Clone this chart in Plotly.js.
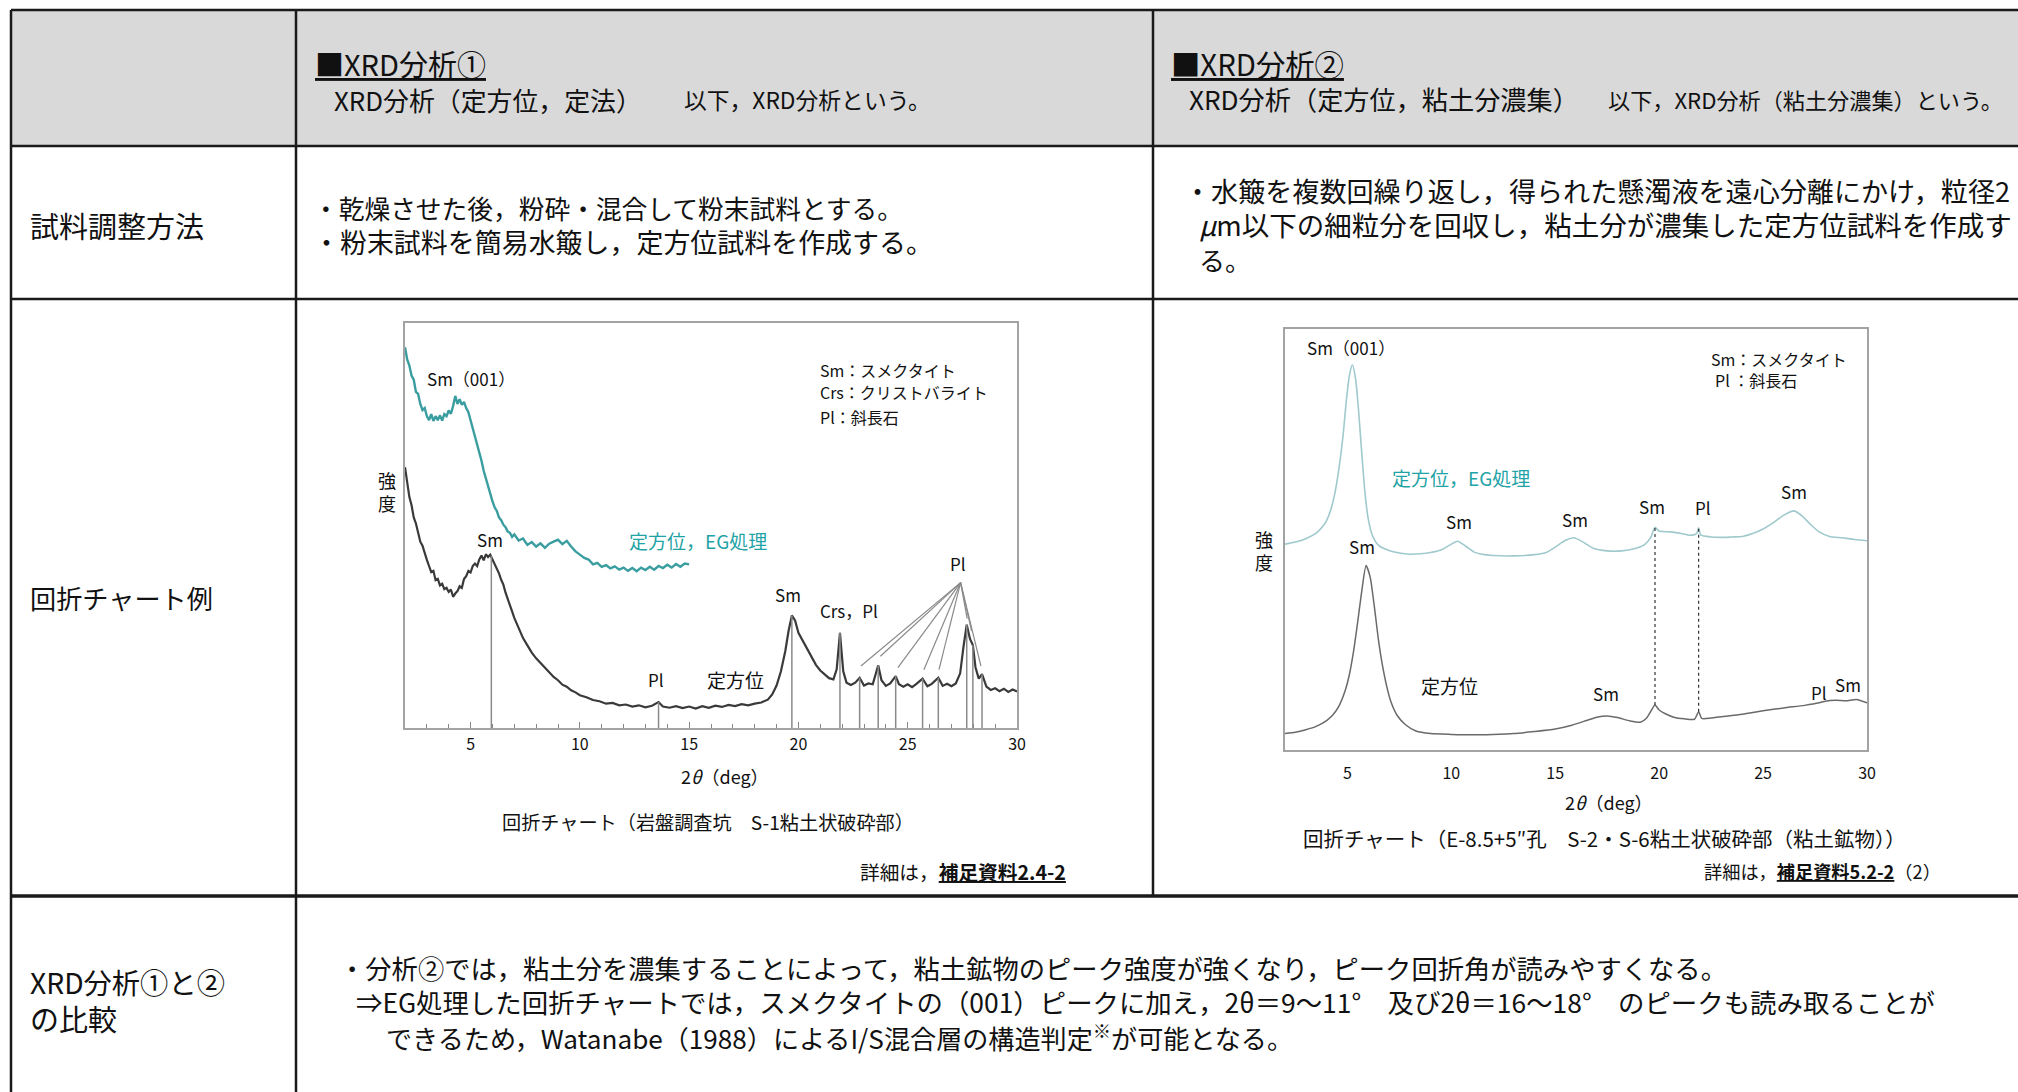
<!DOCTYPE html>
<html>
<head>
<meta charset="utf-8">
<script src="https://cdn.plot.ly/plotly-3.0.1.min.js"></script>
<style>
html,body{margin:0;padding:0;background:#fff;}
#chart{width:2018px;height:1092px;}
</style>
</head>
<body>
<div id="chart"></div>
<script>
// ---------------- DATA ----------------
// Left chart (XRD分析①): 2θ (deg) and relative intensity
const leftEG_x = [2.0,2.1,2.2,2.3,2.4,2.5,2.6,2.7,2.8,2.9,3.0,3.1,3.2,3.3,3.4,3.5,3.6,3.7,3.8,3.9,4.0,4.1,4.2,4.3,4.4,4.5,4.6,4.7,4.8,4.9,5.0,5.1,5.2,5.3,5.4,5.5,5.6,5.7,5.8,5.9,6.0,6.1,6.2,6.3,6.4,6.5,6.6,6.7,6.8,6.9,7.0,7.2,7.4,7.6,7.8,8.0,8.2,8.4,8.6,8.8,9.0,9.2,9.4,9.6,9.8,10.0,10.2,10.4,10.6,10.8,11.0,11.2,11.4,11.6,11.8,12.0,12.2,12.4,12.6,12.8,13.0,13.2,13.4,13.6,13.8,14.0,14.2,14.4,14.6,14.8,15.0];
const leftEG_y = [94,91,89.5,87,86,83,82.5,80,78.5,79,77,76,77.5,75.8,77,76,77.2,75.9,77.5,77,78.4,77.6,79.5,82,80,81.2,79.8,80.5,79,78,76,74,72.5,70,68,66,63.5,61.5,59.5,57.8,56,54.5,53.6,52,51.3,50.2,49.6,48.5,48.2,47.2,47.8,46.3,46.8,45.2,45.9,44.8,45.6,44.5,45.5,46,46.5,45.4,46.2,44.8,43.6,42.8,42,41.6,40.4,40.8,39.8,40.2,39.4,39.9,39.1,39.6,38.8,39.5,38.7,39.6,39,39.8,39.1,40,39.5,40.3,39.6,40.5,39.8,40.6,40.4];

const leftOri_x = [2.0,2.1,2.2,2.3,2.4,2.5,2.6,2.7,2.8,2.9,3.0,3.1,3.2,3.3,3.4,3.5,3.6,3.7,3.8,3.9,4.0,4.1,4.2,4.3,4.4,4.5,4.6,4.7,4.8,4.9,5.0,5.1,5.2,5.3,5.4,5.5,5.6,5.7,5.8,5.9,6.0,6.1,6.2,6.3,6.4,6.5,6.6,6.7,6.8,6.9,7.0,7.2,7.4,7.6,7.8,8.0,8.2,8.4,8.6,8.8,9.0,9.2,9.4,9.6,9.8,10.0,10.3,10.6,10.9,11.2,11.5,11.8,12.1,12.4,12.7,13.0,13.3,13.6,13.8,14.1,14.4,14.7,15.0,15.3,15.6,15.9,16.2,16.5,16.8,17.1,17.4,17.7,18.0,18.3,18.6,18.8,19.0,19.2,19.4,19.55,19.7,19.85,20.0,20.2,20.4,20.6,20.8,21.0,21.2,21.4,21.6,21.75,21.9,22.05,22.2,22.4,22.6,22.8,23.0,23.2,23.4,23.55,23.65,23.8,24.0,24.2,24.45,24.6,24.8,25.0,25.2,25.4,25.68,25.9,26.1,26.4,26.6,26.8,27.0,27.2,27.4,27.55,27.7,27.85,27.98,28.1,28.25,28.4,28.6,28.8,29.0,29.2,29.4,29.6,29.8,30.0];
const leftOri_y = [64.4,60,57,55,52,50.5,48,46,45,43,41.5,40,38.5,38.8,36.5,36.8,35.2,35.6,34.3,34.6,33.6,34.2,32.4,33.2,33.8,35,34.6,36.8,37.5,38.8,38.4,40,40.6,40,41.6,42.6,41.4,42.9,42.2,42.8,41.6,40.8,39.2,38.2,36.6,35.4,33.4,32,30.3,28.8,27.2,24.5,22.2,20.4,18.6,17.2,16,14.8,13.8,12.6,11.8,10.7,10.2,9.3,8.8,8.1,7.6,6.9,6.6,6.0,6.2,5.6,5.8,5.3,5.6,5.1,5.5,6.4,5.3,5.0,5.4,4.9,5.3,4.8,5.4,5.0,5.5,5.2,5.7,5.4,5.9,5.6,6.0,6.3,7.0,8.3,10.5,14,19,24,27.8,26.5,23.5,21.5,19.8,17.5,15.6,14.2,13.2,12.3,12.0,14.5,23.5,14,11.2,10.6,11.2,12.4,10.5,11.0,10.8,13.5,15.5,11.8,10.4,11.0,12.8,10.8,10.2,10.8,10.1,10.9,12.2,10.3,10.9,12.4,10.4,10.9,10.3,11.0,13.5,20,25.5,22,20.5,15,12.2,13.3,10.2,9.4,9.8,9.1,9.7,8.9,9.5,9.0];

// Peak reference lines (left chart): position and top
const leftPeakLine_x = [5.95,13.6,19.7,21.9,22.8,23.65,24.45,25.68,26.4,27.7,27.98,28.4];
const leftPeakLine_top = [42.5,6.4,27.8,23.5,12.4,15.5,12.8,12.2,12.4,25.5,20.5,13.3];
// Pl leader lines (fan) in left chart
const leftPlFanOrigin = [27.42, 35.9];
const leftPlFan_x = [22.86,23.75,24.55,25.74,26.43,27.72,27.92,28.35];
const leftPlFan_y = [15.3,17.7,14.9,14.4,14.4,27,24,15.3];

// Right chart (XRD分析②)
const rightEG_x = [2.0,2.5,3.0,3.5,3.8,4.0,4.2,4.4,4.6,4.8,4.95,5.1,5.24,5.4,5.55,5.7,5.85,6.0,6.2,6.5,7.0,7.5,8.0,8.5,9.0,9.5,9.9,10.3,10.7,11.1,11.6,12.0,13.0,14.0,14.6,15.0,15.5,15.9,16.3,16.8,17.5,18.2,18.8,19.3,19.6,19.8,20.0,20.5,21.0,21.5,21.8,21.9,22.0,22.5,23.0,23.5,24.0,24.5,25.0,25.5,26.0,26.5,26.9,27.3,27.7,28.2,28.8,29.4,30.0];
const rightEG_y = [48.9,49.4,50.2,51.5,53,54.5,57,61,67,75,83,89,91.5,88,80,70,61,55,51,48.6,47.4,46.8,46.5,46.6,46.9,47.5,48.6,49.6,48.4,47,46.4,46.2,46.1,46.4,47,48.2,49.8,50.4,49.5,48,47.3,47.3,47.8,48.8,50.5,52.9,52,51.8,51.5,51,51.4,52.8,51.1,50.6,50.5,50.6,50.7,51.4,52.5,54,55.8,56.8,55.5,53.5,51.8,50.7,50.4,50,49.7];

const rightOri_x = [2.0,2.5,3.0,3.5,4.0,4.3,4.6,4.9,5.1,5.3,5.5,5.7,5.9,6.1,6.3,6.5,6.7,6.9,7.1,7.4,7.8,8.3,9.0,10.0,11.0,12.0,13.0,14.0,15.0,15.8,16.5,17.0,17.5,18.0,18.6,19.1,19.4,19.6,19.8,20.0,20.3,20.7,21.2,21.7,21.9,22.05,22.5,23.0,24.0,25.0,26.0,27.0,27.7,28.0,28.5,29.0,29.5,30.0];
const rightOri_y = [3.9,4.2,4.8,5.6,7.0,8.3,10.5,14.2,18,23.5,30.5,38,43.8,41,34,26,19.8,15,11.4,8.2,6.0,4.5,3.9,3.7,3.6,3.7,3.9,4.4,5.0,5.9,7.0,7.8,8.1,7.7,6.9,6.6,7.6,9.2,10.7,9.5,8.6,7.8,7.4,7.3,9.1,7.5,7.6,7.9,8.5,9.3,10.0,10.6,11.2,11.6,11.8,11.7,12.0,11.2];

// Dotted link lines (right chart): position, bottom, top
const rightLink_x = [19.8, 21.9];
const rightLink_bottom = [10.7, 9.1];
const rightLink_top = [52.9, 52.8];

// Peak labels
const leftLabels = [
  {x:5.0, y:86.2, t:'Sm（001）'},
  {x:5.9, y:46.6, t:'Sm'},
  {x:13.5, y:12.0, t:'Pl'},
  {x:19.5, y:33.0, t:'Sm'},
  {x:22.3, y:28.9, t:'Crs，Pl'},
  {x:27.3, y:40.6, t:'Pl'}
];
const rightLabels = [
  {x:5.16, y:95.5, t:'Sm（001）'},
  {x:5.72, y:48.3, t:'Sm'},
  {x:10.37, y:54.2, t:'Sm'},
  {x:15.95, y:54.8, t:'Sm'},
  {x:19.64, y:57.8, t:'Sm'},
  {x:22.1, y:57.6, t:'Pl'},
  {x:26.5, y:61.5, t:'Sm'},
  {x:17.46, y:13.4, t:'Sm'},
  {x:27.7, y:13.6, t:'Pl'},
  {x:29.07, y:15.5, t:'Sm'}
];

// ---------------- LAYOUT HELPERS ----------------
const W = 2018, H = 1092;
const PX = v => v / W;
const PY = v => 1 - v / H;
const FONT = '"Noto Sans CJK JP", "Noto Sans", sans-serif';
const TEAL = '#1fa3a6';
const INK = '#111';

const traces = [
  {x:leftEG_x, y:leftEG_y, xaxis:'x', yaxis:'y', mode:'lines', line:{color:'#3a9ea0', width:2.4}, hoverinfo:'skip'},
  {x:leftOri_x, y:leftOri_y, xaxis:'x', yaxis:'y', mode:'lines', line:{color:'#3a3a3a', width:2.2}, hoverinfo:'skip'},
  {x:rightEG_x, y:rightEG_y, xaxis:'x2', yaxis:'y2', mode:'lines', line:{color:'#9fc9cd', width:1.6, shape:'spline', smoothing:0.6}, hoverinfo:'skip'},
  {x:rightOri_x, y:rightOri_y, xaxis:'x2', yaxis:'y2', mode:'lines', line:{color:'#6a6a6a', width:1.5, shape:'spline', smoothing:0.6}, hoverinfo:'skip'}
];

const shapes = [];
shapes.push({type:'rect', xref:'paper', yref:'paper', x0:PX(11), x1:PX(2018), y0:PY(146), y1:PY(10), fillcolor:'#d9d9d9', line:{width:0}, layer:'below'});
const hLine = (y, x0, x1, w) => shapes.push({type:'line', xref:'paper', yref:'paper', x0:PX(x0), x1:PX(x1), y0:PY(y), y1:PY(y), line:{color:'#1a1a1a', width:w}});
const vLine = (x, y0, y1, w) => shapes.push({type:'line', xref:'paper', yref:'paper', x0:PX(x), x1:PX(x), y0:PY(y0), y1:PY(y1), line:{color:'#1a1a1a', width:w}});
hLine(10, 11, 2018, 2.5);
hLine(146, 11, 2018, 2.5);
hLine(299, 11, 2018, 2.5);
hLine(896, 11, 2018, 3.5);
vLine(11, 10, 1092, 2.5);
vLine(296, 10, 1092, 2.5);
vLine(1153, 10, 896, 2.5);

leftPeakLine_x.forEach((xv, i) => shapes.push({type:'line', xref:'x', yref:'y', x0:xv, x1:xv, y0:0, y1:leftPeakLine_top[i], line:{color:'#8a8a8a', width:1.5}}));
leftPlFan_x.forEach((xv, i) => shapes.push({type:'line', xref:'x', yref:'y', x0:leftPlFanOrigin[0], y0:leftPlFanOrigin[1], x1:xv, y1:leftPlFan_y[i], line:{color:'#8a8a8a', width:1.2}}));
rightLink_x.forEach((xv, i) => shapes.push({type:'line', xref:'x2', yref:'y2', x0:xv, x1:xv, y0:rightLink_bottom[i], y1:rightLink_top[i], line:{color:'#333', width:1.2, dash:'dot'}}));

const ann = [];
const fits = [];
const T = (x, y, text, size, fitW, o = {}) => {
  ann.push(Object.assign({xref:'paper', yref:'paper', x:PX(x), y:PY(y), text:text, showarrow:false, xanchor:'left', yanchor:'middle', font:{family:FONT, size:size, color:INK}}, o));
  fits.push(fitW || null);
};

// header
T(313, 63, '<u>■XRD分析①</u>', 25, 171);
T(332, 99, 'XRD分析（定方位，定法）', 26, 308);
T(682, 99, '以下，XRD分析という。', 22, 247);
T(1169, 63, '<u>■XRD分析②</u>', 25, 173);
T(1187, 99, 'XRD分析（定方位，粘土分濃集）', 26, 390);
T(1606, 99, '以下，XRD分析（粘土分濃集）という。', 22, 395);

// row labels
T(28, 225, '試料調整方法', 27, 174);
T(28, 598, '回折チャート例', 26, 183);
T(28, 981, 'XRD分析①と②', 26, 195);
T(28, 1018, 'の比較', 26, 87);

// sample prep
T(311, 207, '・乾燥させた後，粉砕・混合して粉末試料とする。', 25.5, 590);
T(311, 241, '・粉末試料を簡易水簸し，定方位試料を作成する。', 25.5, 620);
T(1182, 190, '・水簸を複数回繰り返し，得られた懸濁液を遠心分離にかけ，粒径2', 26, 826);
T(1197, 224, '<i>μ</i>m以下の細粒分を回収し，粘土分が濃集した定方位試料を作成す', 26, 813);
T(1197, 259, 'る。', 26);

// comparison
T(337, 967, '・分析②では，粘土分を濃集することによって，粘土鉱物のピーク強度が強くなり，ピーク回折角が読みやすくなる。', 25.5, 1388);
T(354, 1001, '⇒EG処理した回折チャートでは，スメクタイトの（001）ピークに加え，2θ＝9～11°　及び2θ＝16～18°　のピークも読み取ることが', 25.5, 1579);
T(384, 1037, 'できるため，Watanabe（1988）によるI/S混合層の構造判定<sup>※</sup>が可能となる。', 25.5, 907);

// chart captions
T(708, 822, '回折チャート（岩盤調査坑　S-1粘土状破砕部）', 19, 412, {xanchor:'center'});
T(1068, 871, '詳細は，<b><u>補足資料2.4-2</u></b>', 19, 206, {xanchor:'right'});
T(1604, 838, '回折チャート（E-8.5+5″孔　S-2・S-6粘土状破砕部（粘土鉱物））', 19, 603, {xanchor:'center'});
T(1943, 871, '詳細は，<b><u>補足資料5.2-2</u></b>（2）', 19, 237, {xanchor:'right'});

// axis titles / y labels
T(725, 776, '2<i>θ</i>（deg）', 18, null, {xanchor:'center'});
T(1609, 802, '2<i>θ</i>（deg）', 18, null, {xanchor:'center'});
T(387, 492, '強<br>度', 18, null, {xanchor:'center'});
T(1264, 550, '強<br>度', 18, null, {xanchor:'center'});

// chart annotations (data coords)
const D = (xr, yr, x, y, text, size, color, o = {}) => {
  ann.push(Object.assign({xref:xr, yref:yr, x:x, y:y, text:text, showarrow:false, xanchor:'center', yanchor:'middle', font:{family:FONT, size:size, color:color}}, o));
  fits.push(null);
};
leftLabels.forEach(l => D('x','y', l.x, l.y, l.t, 17, INK));
rightLabels.forEach(l => D('x2','y2', l.x, l.y, l.t, 17, INK));
D('x','y', 15.4, 46.2, '定方位，EG処理', 19, TEAL);
D('x','y', 17.1, 12.0, '定方位', 19, INK);
D('x','y', 20.9, 88.3, 'Sm：スメクタイト', 16, INK, {xanchor:'left'});
D('x','y', 20.9, 82.9, 'Crs：クリストバライト', 16, INK, {xanchor:'left'});
D('x','y', 20.9, 76.9, 'Pl：斜長石', 16, INK, {xanchor:'left'});
D('x2','y2', 10.47, 64.7, '定方位，EG処理', 19, TEAL);
D('x2','y2', 9.9, 15.4, '定方位', 19, INK);
D('x2','y2', 22.4, 92.9, 'Sm：スメクタイト', 16, INK, {xanchor:'left'});
D('x2','y2', 22.6, 88.0, 'Pl ：斜長石', 16, INK, {xanchor:'left'});

const axisCommon = {
  range:[2,30], showgrid:false, zeroline:false, showline:true, mirror:true,
  linecolor:'#a3a3a3', linewidth:2, tickmode:'linear', tick0:0, dtick:5,
  tickfont:{family:FONT, size:16, color:INK}, fixedrange:true
};
const yCommon = {range:[0,100], showgrid:false, zeroline:false, showline:true, mirror:true, linecolor:'#a3a3a3', linewidth:2, showticklabels:false, ticks:'', fixedrange:true};

const layout = {
  width:W, height:H,
  margin:{l:0, r:0, t:0, b:0},
  paper_bgcolor:'#ffffff', plot_bgcolor:'#ffffff',
  showlegend:false,
  xaxis:Object.assign({}, axisCommon, {domain:[PX(405), PX(1017)], anchor:'y', ticks:'inside', ticklen:6, tickcolor:'#888', ticklabelstandoff:1,
    minor:{dtick:1, tick0:0, ticks:'inside', ticklen:4, tickcolor:'#888'}}),
  yaxis:Object.assign({}, yCommon, {domain:[PY(728), PY(323)], anchor:'x'}),
  xaxis2:Object.assign({}, axisCommon, {domain:[PX(1285), PX(1867)], anchor:'y2', ticks:'', ticklabelstandoff:8}),
  yaxis2:Object.assign({}, yCommon, {domain:[PY(750), PY(329)], anchor:'x2'}),
  shapes:shapes,
  annotations:ann
};

Plotly.newPlot('chart', traces, layout, {staticPlot:true, displayModeBar:false}).then(gd => {
  // fit table texts to the widths they take in the reference
  const upd = {};
  fits.forEach((fw, i) => {
    if (!fw) return;
    const el = gd.querySelector('g.annotation[data-index="' + i + '"] text.annotation-text');
    if (!el) return;
    const w = el.getBBox().width;
    if (w > 0) {
      let k = fw / w;
      k = Math.max(0.8, Math.min(1.2, k));
      upd['annotations[' + i + '].font.size'] = +(ann[i].font.size * k).toFixed(2);
    }
  });
  return Plotly.relayout(gd, upd);
});
</script>
</body>
</html>
